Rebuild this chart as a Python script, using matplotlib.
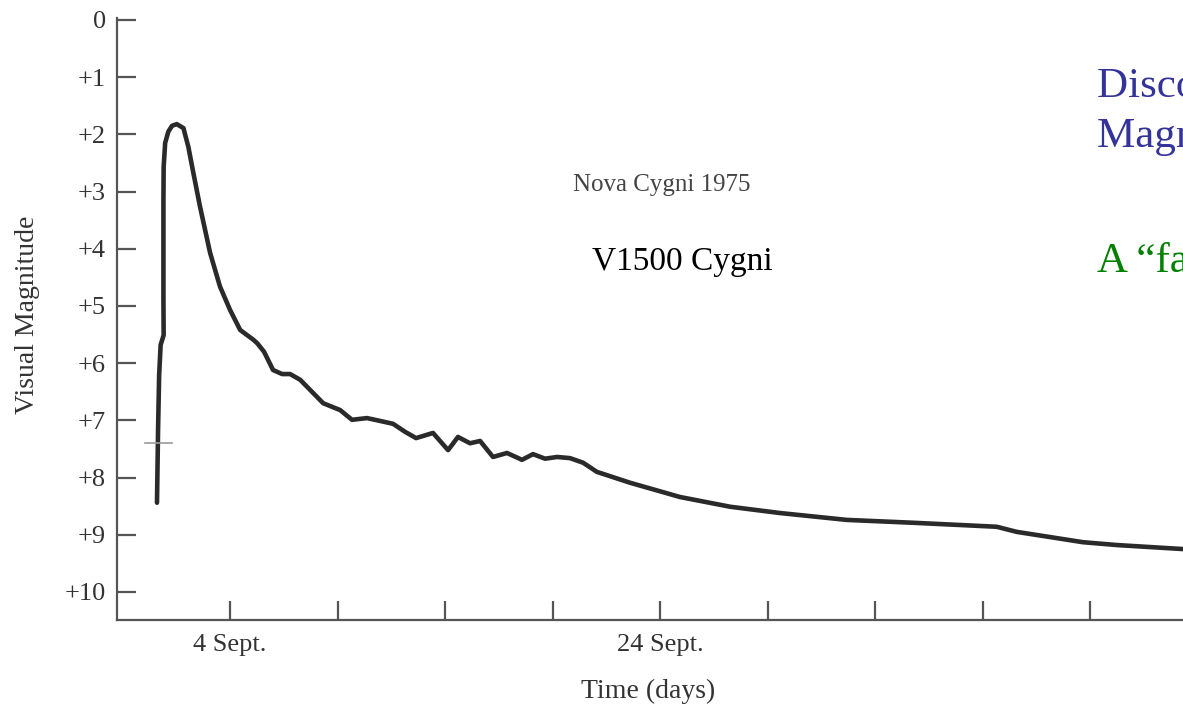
import matplotlib.pyplot as plt
import numpy as np

plt.rcParams['font.family'] = ['Liberation Serif', 'DejaVu Serif']

# light curve of Nova Cygni 1975 (day of Sept., visual magnitude)
days = [0.60, 0.65, 0.70, 0.77, 0.91, 0.90, 0.90, 0.91, 0.98, 1.13, 1.30, 1.52, 1.83,
        2.06, 2.29, 2.60, 3.07, 3.53, 4.00, 4.47, 5.08, 5.26, 5.58, 6.00, 6.42, 6.79,
        7.26, 8.33, 8.79, 9.12, 9.67, 10.37, 10.98, 11.58, 12.14, 12.65, 13.44, 14.14,
        14.60, 15.16, 15.63, 16.23, 16.88, 17.58, 18.09, 18.65, 19.21, 19.81, 20.42,
        21.06, 22.60, 24.93, 27.26, 29.58, 32.68, 35.77, 39.66, 40.60, 42.14, 43.67,
        45.26, 48.33]
mags = [8.44, 7.17, 6.21, 5.68, 5.51, 4.90, 3.15, 2.57, 2.15, 1.95, 1.85, 1.82, 1.89,
        2.22, 2.67, 3.26, 4.07, 4.66, 5.07, 5.42, 5.59, 5.65, 5.80, 6.12, 6.19, 6.19,
        6.29, 6.70, 6.77, 6.82, 6.99, 6.96, 7.01, 7.06, 7.20, 7.31, 7.22, 7.52,
        7.29, 7.40, 7.36, 7.64, 7.57, 7.69, 7.59, 7.67, 7.64, 7.66, 7.74,
        7.90, 8.09, 8.34, 8.51, 8.62, 8.74, 8.79, 8.86, 8.95, 9.04, 9.13,
        9.18, 9.25]

ytick_vals = list(range(0, 11))
ytick_labels = ['0'] + ['+%d' % v for v in range(1, 11)]
xtick_vals = [4, 9, 14, 19, 24, 29, 34, 39, 44]
xtick_labels = ['4 Sept.', '', '', '', '24 Sept.', '', '', '', '']

fig = plt.figure(figsize=(11.83, 7.11), dpi=100)
ax = fig.add_axes([0.0989, 0.128, 0.907, 0.8467])

ax.plot(days, mags, color='#2a2a2a', lw=3.3, solid_joinstyle='round', solid_capstyle='round')
# small pencil mark near the rise
ax.plot([0.05, 1.30], [7.40, 7.40], color='#999999', lw=1.2)

ax.set_xlim(-1.26, 48.65)
ax.set_ylim(10.49, -0.035)

for s in ['top', 'right']:
    ax.spines[s].set_visible(False)
for s in ['left', 'bottom']:
    ax.spines[s].set_color('#555555')
    ax.spines[s].set_linewidth(1.6)

ax.set_yticks(ytick_vals)
ax.set_yticklabels(ytick_labels)
ax.set_xticks(xtick_vals)
ax.set_xticklabels(xtick_labels)
ax.tick_params(axis='y', direction='in', length=14, width=1.6, color='#555555',
               labelsize=19, labelcolor='#333333', pad=8)
ax.tick_params(axis='x', direction='in', length=14, width=1.6, color='#555555',
               labelsize=19, labelcolor='#333333', pad=10)

fig.text(0.023, 0.557, 'Visual Magnitude', rotation=90, ha='center', va='center',
         fontsize=20, color='#333333')
fig.text(0.548, 0.027, 'Time (days)', ha='center', va='center', fontsize=20, color='#333333')

fig.text(0.5596, 0.74, 'Nova Cygni 1975', ha='center', va='center', fontsize=18, color='#444444')
fig.text(0.5765, 0.6315, 'V1500 Cygni', ha='center', va='center', fontsize=24, color='black')

fig.text(0.927, 0.8636, 'Discovered 29 August 1975', ha='left', va='baseline',
         fontsize=31, color='#333399')
fig.text(0.927, 0.793, 'Magnitude +1.8 at peak', ha='left', va='baseline',
         fontsize=31, color='#333399')
fig.text(0.927, 0.617, 'A \u201cfast\u201d nova', ha='left', va='baseline',
         fontsize=31, color='#008000')

plt.savefig('out.png', dpi=100)
